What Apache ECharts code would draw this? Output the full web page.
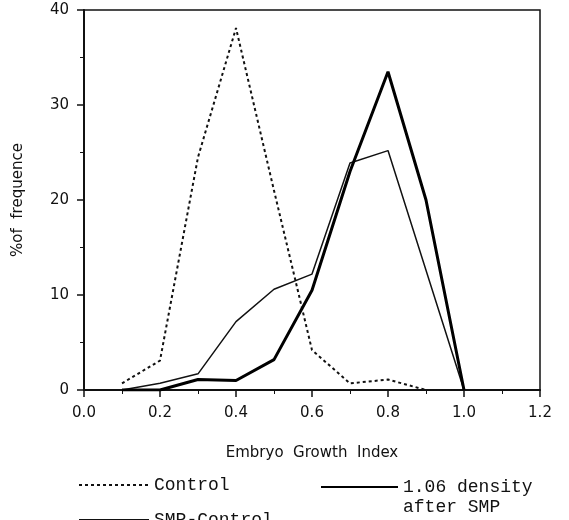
<!DOCTYPE html>
<html>
<head>
<meta charset="utf-8">
<script src="https://cdn.jsdelivr.net/npm/echarts@6/dist/echarts.min.js"></script>
<style>
  html, body { margin: 0; padding: 0; background: #fff; }
  #chart { width: 569px; height: 520px; }
</style>
</head>
<body>
<div id="chart"></div>
<script>
var growthIndex = [0.1, 0.2, 0.3, 0.4, 0.5, 0.6, 0.7, 0.8, 0.9, 1.0];
var controlVals = [0.7, 3.1, 24.5, 38.1, 21, 4.2, 0.7, 1.1, 0, 0];
var smpControlVals = [0, 0.7, 1.7, 7.2, 10.6, 12.2, 23.9, 25.2, 12.6, 0];
var densityVals = [0, 0, 1.1, 1.0, 3.2, 10.5, 23, 33.5, 20, 0];

function pairs(vals) {
    var out = [];
    for (var i = 0; i < growthIndex.length; i++) {
        out.push([growthIndex[i], vals[i]]);
    }
    return out;
}

var chartDom = document.getElementById('chart');
var myChart = echarts.init(chartDom);

var legendText = { fontFamily: 'Liberation Mono', fontSize: 18, color: '#111', lineHeight: 20 };
// hide the round marker that line legends draw when symbol is 'none'
var noMarker = { opacity: 0 };

var option = {
    animation: false,
    grid: {
        left: 84, right: 29, top: 10, bottom: 130,
        show: true, borderColor: '#111', borderWidth: 1.5
    },
    xAxis: {
        type: 'value',
        min: 0, max: 1.2, interval: 0.2,
        name: 'Embryo  Growth  Index',
        nameLocation: 'middle',
        nameGap: 56,
        nameTextStyle: { fontFamily: 'DejaVu Sans', fontSize: 15, color: '#111' },
        axisLine: { show: true, lineStyle: { color: '#111', width: 2 } },
        axisTick: { show: true, length: 7, lineStyle: { color: '#111', width: 1.5 } },
        minorTick: { show: true, splitNumber: 2, length: 4, lineStyle: { color: '#111' } },
        splitLine: { show: false },
        axisLabel: {
            margin: 16,
            fontFamily: 'DejaVu Sans', fontSize: 15, color: '#111',
            formatter: function (v) { return v.toFixed(1); }
        }
    },
    yAxis: {
        type: 'value',
        min: 0, max: 40, interval: 10,
        name: '%of  frequence',
        nameLocation: 'middle',
        nameGap: 58,
        nameTextStyle: { fontFamily: 'DejaVu Sans', fontSize: 15, color: '#111' },
        axisLine: { show: true, lineStyle: { color: '#111', width: 2 } },
        axisTick: { show: true, length: 7, lineStyle: { color: '#111', width: 1.5 } },
        minorTick: { show: true, splitNumber: 2, length: 4, lineStyle: { color: '#111' } },
        splitLine: { show: false },
        axisLabel: { margin: 15, fontFamily: 'DejaVu Sans', fontSize: 15, color: '#111' }
    },
    legend: [
        {
            data: ['Control'], left: 78, top: 475, padding: 0,
            itemWidth: 70, itemHeight: 10, itemStyle: noMarker, textStyle: legendText
        },
        {
            data: ['SMP-Control'], left: 78, top: 510, padding: 0,
            itemWidth: 70, itemHeight: 10, itemStyle: noMarker, textStyle: legendText
        },
        {
            data: ['1.06 density after SMP'], left: 320, top: 457, padding: 0,
            itemWidth: 77, itemHeight: 10, itemStyle: noMarker, textStyle: legendText,
            formatter: function () { return '\n1.06 density\nafter SMP'; }
        }
    ],
    series: [
        {
            name: 'Control', type: 'line', data: pairs(controlVals),
            symbol: 'none',
            lineStyle: { color: '#111', width: 2, type: [3, 3] },
            itemStyle: { color: '#111' }
        },
        {
            name: 'SMP-Control', type: 'line', data: pairs(smpControlVals),
            symbol: 'none',
            lineStyle: { color: '#111', width: 1.5 },
            itemStyle: { color: '#111' }
        },
        {
            name: '1.06 density after SMP', type: 'line', data: pairs(densityVals),
            symbol: 'none',
            lineStyle: { color: '#000', width: 3 },
            itemStyle: { color: '#000' }
        }
    ]
};

option && myChart.setOption(option);
</script>
</body>
</html>
